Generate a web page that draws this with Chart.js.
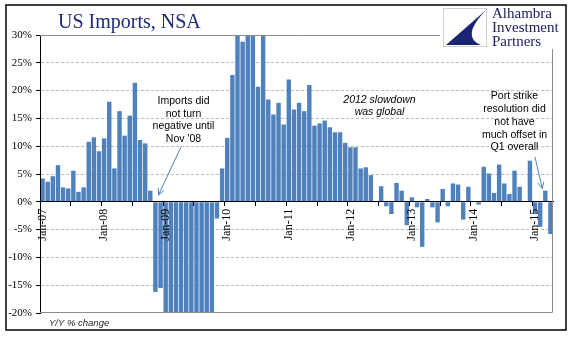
<!DOCTYPE html>
<html>
<head>
<meta charset="utf-8">
<script src="https://cdn.jsdelivr.net/npm/chart.js@4"></script>
<style>
  html, body { margin: 0; padding: 0; background: #fff; }
  #wrap { width: 577px; height: 341px; }
</style>
</head>
<body>
<div id="wrap"><canvas id="chart" width="577" height="341"></canvas></div>
<script>
// Y/Y % change in US imports (not seasonally adjusted), one array per year
const imports2007 = [4.2, 3.6, 4.6, 6.6, 2.6, 2.4, 5.6, 1.8, 2.6, 10.8, 11.6, 9.1];
const imports2008 = [11.4, 18.0, 6.0, 16.3, 11.9, 15.5, 21.4, 11.1, 10.5, 2.0, -16.2, -15.5];
const imports2009 = [-26, -30, -31, -33, -34, -32, -30, -28, -25, -21, -3.0, 6.0];
const imports2010 = [11.5, 22.8, 31.5, 28.8, 33, 32, 20.7, 31, 18.4, 15.7, 17.8, 13.9];
const imports2011 = [22.0, 16.6, 17.8, 16.3, 21.0, 13.7, 14.1, 14.6, 13.4, 12.5, 12.5, 10.6];
const imports2012 = [9.8, 9.8, 6.0, 6.2, 4.8, 0.0, 2.8, -0.8, -2.2, 3.4, 2.0, -4.2];
const imports2013 = [0.8, -1.0, -8.1, 0.5, -1.0, -3.7, 2.3, -0.8, 3.3, 3.1, -3.2, 2.7];
const imports2014 = [0.0, -0.5, 6.3, 5.1, 1.6, 6.7, 3.3, 1.4, 5.6, 2.7, 0.0, 7.4];
const imports2015 = [-2.2, -4.5, 2.0, -5.8];

const yearSuffixes = ['07', '08', '09', '10', '11', '12', '13', '14', '15'];
const monthNames = ['Jan', 'Feb', 'Mar', 'Apr', 'May', 'Jun', 'Jul', 'Aug', 'Sep', 'Oct', 'Nov', 'Dec'];
const tickLabels = ['Jan-07', 'Jan-08', 'Jan-09', 'Jan-10', 'Jan-11', 'Jan-12', 'Jan-13', 'Jan-14', 'Jan-15'];
const yTicks = [-20, -15, -10, -5, 0, 5, 10, 15, 20, 25, 30];

const values = [].concat(imports2007, imports2008, imports2009, imports2010, imports2011,
                         imports2012, imports2013, imports2014, imports2015);
const months = [];
yearSuffixes.forEach(yr => monthNames.forEach(m => months.push(m + '-' + yr)));
months.length = values.length;

const noteImports = ['Imports did', 'not turn', 'negative until', "Nov '08"];
const noteSlowdown = ['2012 slowdown', 'was global'];
const notePort = ['Port strike', 'resolution did', 'not have', 'much offset in', 'Q1 overall'];

const NAVY = '#1f2a78';
const BAR = '#4f81bd';

function drawLines(ctx, lines, cx, top, step) {
  lines.forEach((t, i) => ctx.fillText(t, cx, top + i * step));
}

function arrow(ctx, x1, y1, x2, y2) {
  const ang = Math.atan2(y2 - y1, x2 - x1);
  ctx.beginPath();
  ctx.moveTo(x1, y1);
  ctx.lineTo(x2, y2);
  ctx.moveTo(x2 - 7 * Math.cos(ang - 0.45), y2 - 7 * Math.sin(ang - 0.45));
  ctx.lineTo(x2, y2);
  ctx.lineTo(x2 - 7 * Math.cos(ang + 0.45), y2 - 7 * Math.sin(ang + 0.45));
  ctx.stroke();
}

// frame, title, logo and the text notes around the bars
const decor = {
  id: 'decor',
  afterDraw(chart) {
    const { ctx, chartArea: a, scales: { x, y } } = chart;
    ctx.save();

    // plot area border
    ctx.strokeStyle = '#8a8a8a';
    ctx.lineWidth = 1;
    ctx.beginPath();
    ctx.moveTo(a.left, a.top + 0.5);
    ctx.lineTo(a.right - 0.5, a.top + 0.5);
    ctx.lineTo(a.right - 0.5, a.bottom - 0.5);
    ctx.lineTo(a.left, a.bottom - 0.5);
    ctx.stroke();

    // outer frame
    ctx.strokeStyle = '#000';
    ctx.lineWidth = 1.5;
    ctx.strokeRect(6, 5, 560, 325);

    // title
    ctx.fillStyle = NAVY;
    ctx.font = '20px "Liberation Serif"';
    ctx.textAlign = 'left';
    ctx.textBaseline = 'alphabetic';
    ctx.fillText('US Imports, NSA', 58, 28);

    // logo
    ctx.fillStyle = '#fff';
    ctx.fillRect(440, 6, 125, 43);
    ctx.strokeStyle = '#cfcfcf';
    ctx.lineWidth = 1;
    ctx.strokeRect(443.5, 8.5, 43, 38);
    ctx.fillStyle = '#1b2373';
    ctx.beginPath();
    ctx.moveTo(486, 10);
    ctx.lineTo(446, 45);
    ctx.lineTo(481, 45);
    ctx.quadraticCurveTo(460, 37, 486, 10);
    ctx.fill();
    ctx.fillStyle = '#1b2266';
    ctx.font = '15px "Liberation Serif"';
    drawLines(ctx, ['Alhambra', 'Investment', 'Partners'], 492, 18, 14);

    // notes
    ctx.fillStyle = '#000';
    ctx.textAlign = 'center';
    ctx.textBaseline = 'middle';
    ctx.font = '10.5px "Liberation Sans"';
    drawLines(ctx, noteImports, 183.5, 101, 12.8);
    drawLines(ctx, notePort, 514.5, 96, 12.9);
    ctx.font = 'italic 10.5px "Liberation Sans"';
    drawLines(ctx, noteSlowdown, 379.5, 100, 12);

    ctx.textAlign = 'left';
    ctx.fillStyle = '#222';
    ctx.font = 'italic 9.5px "Liberation Sans"';
    ctx.fillText('Y/Y % change', 49, 323);

    // arrows pointing at Nov-08 and Mar-15
    ctx.strokeStyle = BAR;
    ctx.lineWidth = 1;
    arrow(ctx, 181, 147, x.getPixelForValue(22) + 3, y.getPixelForValue(1.2));
    arrow(ctx, 535, 157, x.getPixelForValue(98) - 3, y.getPixelForValue(values[98] + 0.4));

    ctx.restore();
  }
};

new Chart(document.getElementById('chart'), {
  type: 'bar',
  data: {
    labels: months,
    datasets: [{
      data: values,
      backgroundColor: BAR,
      borderWidth: 0,
      barPercentage: 1,
      categoryPercentage: 0.86
    }]
  },
  options: {
    responsive: false,
    animation: false,
    layout: { padding: { left: 0, right: 24, top: 35, bottom: 28 } },
    plugins: { legend: { display: false }, tooltip: { enabled: false } },
    scales: {
      x: {
        position: { y: 0 },
        grid: {
          z: 1,
          drawOnChartArea: false,
          tickLength: 4,
          tickColor: c => (c.index % 6 === 0 ? '#000' : 'rgba(0,0,0,0)'),
          tickBorderDash: []
        },
        border: { z: 1, color: '#000', width: 1 },
        ticks: {
          z: 1,
          autoSkip: false,
          minRotation: 90,
          maxRotation: 90,
          padding: 3,
          color: '#000',
          font: { family: 'Liberation Serif', size: 12 },
          callback: (v, i) => (i % 12 === 0 ? tickLabels[i / 12] : '')
        }
      },
      y: {
        min: -20,
        max: 30,
        afterFit: s => { s.width = 40; },
        afterBuildTicks: s => { s.ticks = yTicks.map(v => ({ value: v })); },
        grid: {
          tickLength: 4,
          tickColor: '#000',
          tickBorderDash: [],
          color: c => (c.tick && c.tick.value > -20 && c.tick.value < 30 && c.tick.value !== 0 ? '#bdbdbd' : 'rgba(0,0,0,0)')
        },
        border: { z: 1, color: '#000', width: 1, dash: [3, 2] },
        ticks: {
          padding: 4,
          color: '#000',
          font: { family: 'Liberation Serif', size: 11 },
          callback: v => v + '%'
        }
      }
    }
  },
  plugins: [decor]
});
</script>
</body>
</html>
